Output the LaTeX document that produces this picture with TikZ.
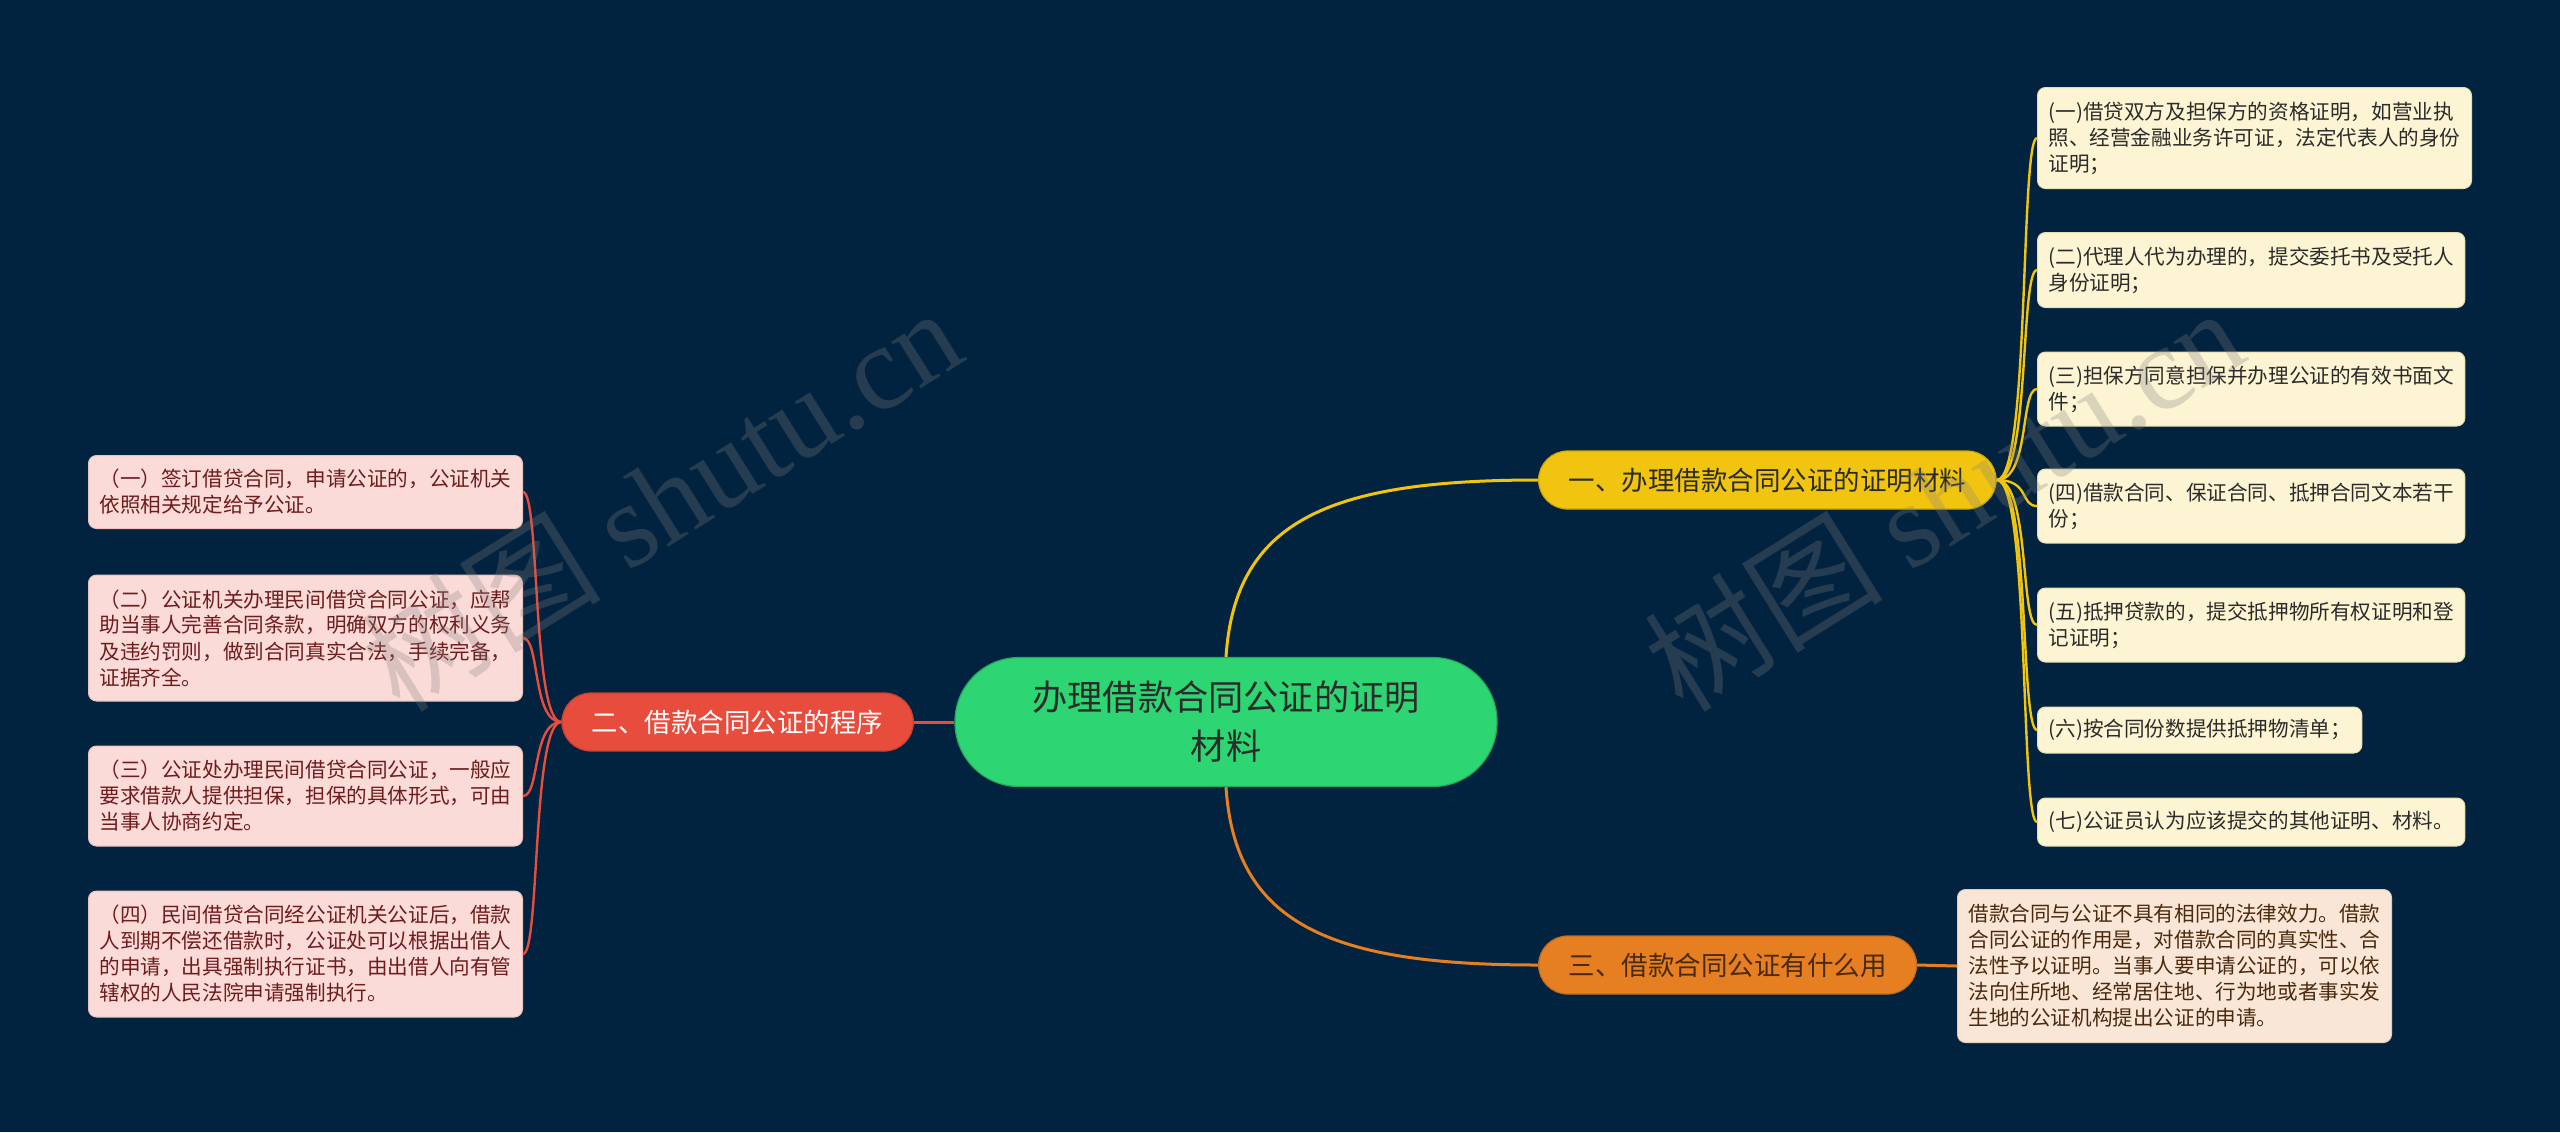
\documentclass[tikz,border=0pt]{standalone}
\usepackage{fontspec}
\setmainfont{Noto Sans CJK SC}
\newfontfamily\wmlatin{Liberation Serif}
\definecolor{bg}{HTML}{02233F}
\definecolor{cgreen}{HTML}{2ED573}
\definecolor{cyellow}{HTML}{F1C40F}
\definecolor{cred}{HTML}{E74C3C}
\definecolor{corange}{HTML}{E67E22}
\definecolor{leafY}{HTML}{FCF4D2}
\definecolor{leafYd}{HTML}{E8DDB0}
\definecolor{leafP}{HTML}{FADBD8}
\definecolor{leafPd}{HTML}{E8C2BE}
\definecolor{leafO}{HTML}{FAE6D6}
\definecolor{leafOd}{HTML}{E6CDB8}
\definecolor{txtdark}{HTML}{2B2B2B}
\definecolor{txtred}{HTML}{6E1C1C}
\definecolor{txtbrown}{HTML}{4A2A0E}
\begin{document}
\begin{tikzpicture}[x=0.5pt,y=-0.5pt,
  leafbase/.style={rounded corners=4pt, align=left, inner xsep=5.5pt, inner ysep=0pt,
    font=\fontsize{10.3pt}{13pt}\selectfont, anchor=west, line width=0.5pt},
  leafR/.style={leafbase, fill=leafY, draw=leafYd, text=txtdark},
  leafL/.style={leafbase, fill=leafP, draw=leafPd, text=txtred},
  leafB/.style={leafbase, fill=leafO, draw=leafOd, text=txtbrown},
  branchbox/.style={rounded corners=14.5pt, minimum height=29pt, inner xsep=15pt, inner ysep=0pt,
    font=\fontsize{13.25pt}{16pt}\selectfont, line width=0.6pt},
  rootbox/.style={rounded corners=32pt, minimum width=271pt, minimum height=64.5pt, align=center,
    fill=cgreen, draw=cgreen!80!black, line width=0.6pt, text=txtdark,
    font=\fontsize{17.6pt}{24.5pt}\selectfont},
  mainlink/.style={line width=1.5pt},
  leaflink/.style={line width=1.2pt},
  wm/.style={text=gray, opacity=0.28, rotate=32, font=\fontsize{60pt}{60pt}\selectfont}
]
\useasboundingbox (0,0) rectangle (2560,1132);
\fill[bg] (0,0) rectangle (2560,1132);

% root
\node[rootbox] (c) at (1226,722) {办理借款合同公证的证明\\材料};

% branches
\node[branchbox, fill=cyellow, draw=cyellow!85!black, text=txtdark, anchor=west] (b1) at (1538,480) {一、办理借款合同公证的证明材料};
\node[branchbox, fill=cred, draw=cred!85!black, text=white, anchor=east] (b2) at (914,722) {二、借款合同公证的程序};
\node[branchbox, fill=corange, draw=corange!85!black, text=txtbrown, anchor=west] (b3) at (1538,965) {三、借款合同公证有什么用};

% right leaves
\node[leafR, minimum height=50.5pt] (r1) at (2037,138) {(一)借贷双方及担保方的资格证明，如营业执\\照、经营金融业务许可证，法定代表人的身份\\证明；};
\node[leafR, minimum height=37.5pt] (r2) at (2037,270) {(二)代理人代为办理的，提交委托书及受托人\\身份证明；};
\node[leafR, minimum height=37pt] (r3) at (2037,389) {(三)担保方同意担保并办理公证的有效书面文\\件；};
\node[leafR, minimum height=37pt] (r4) at (2037,506) {(四)借款合同、保证合同、抵押合同文本若干\\份；};
\node[leafR, minimum height=37pt] (r5) at (2037,625) {(五)抵押贷款的，提交抵押物所有权证明和登\\记证明；};
\node[leafR, minimum height=23pt] (r6) at (2037,730) {(六)按合同份数提供抵押物清单；};
\node[leafR, minimum height=24pt] (r7) at (2037,822) {(七)公证员认为应该提交的其他证明、材料。};

% left leaves
\node[leafL, minimum height=36.5pt] (l1) at (88,492) {（一）签订借贷合同，申请公证的，公证机关\\依照相关规定给予公证。};
\node[leafL, minimum height=63pt] (l2) at (88,638) {（二）公证机关办理民间借贷合同公证，应帮\\助当事人完善合同条款，明确双方的权利义务\\及违约罚则，做到合同真实合法，手续完备，\\证据齐全。};
\node[leafL, minimum height=50pt] (l3) at (88,796) {（三）公证处办理民间借贷合同公证，一般应\\要求借款人提供担保，担保的具体形式，可由\\当事人协商约定。};
\node[leafL, minimum height=63pt] (l4) at (88,954) {（四）民间借贷合同经公证机关公证后，借款\\人到期不偿还借款时，公证处可以根据出借人\\的申请，出具强制执行证书，由出借人向有管\\辖权的人民法院申请强制执行。};

% bottom right leaf
\node[leafB, minimum height=76.5pt] (o1) at (1957,966) {借款合同与公证不具有相同的法律效力。借款\\合同公证的作用是，对借款合同的真实性、合\\法性予以证明。当事人要申请公证的，可以依\\法向住所地、经常居住地、行为地或者事实发\\生地的公证机构提出公证的申请。};

% root links
\draw[mainlink, cyellow] (c.north) .. controls (1235,520) and (1330,480) .. (b1.west);
\draw[mainlink, corange] (c.south) .. controls (1235,924) and (1330,965) .. (b3.west);
\draw[mainlink, cred] (c.west) -- (b2.east);

% right leaf links
\foreach \n in {r1,r2,r3,r4,r5,r6,r7}{
  \draw[leaflink, cyellow] (b1.east) .. controls (2030,480) and (2020,0 |- \n.west) .. (\n.west);
}

% left leaf links
\foreach \n in {l1,l2,l3,l4}{
  \draw[leaflink, cred] (b2.west) .. controls (532,722) and (540,0 |- \n.east) .. (\n.east);
}

% bottom link
\draw[mainlink, corange] (b3.east) -- (o1.west);

% watermarks
\node[wm] (w1) at (661,498) {树图 {\wmlatin shutu.cn}};
\node[wm] (w2) at (1943,498) {树图 {\wmlatin shutu.cn}};
\end{tikzpicture}
\end{document}
